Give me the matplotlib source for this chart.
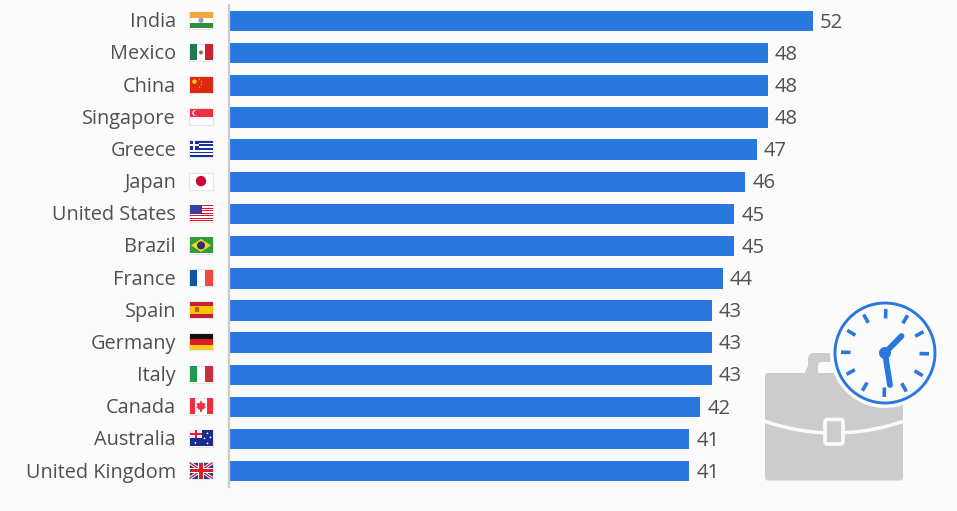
import numpy as np
import matplotlib
matplotlib.use("Agg")
import matplotlib.pyplot as plt
from matplotlib.patches import Rectangle, Circle, FancyBboxPatch, Polygon

countries = ["India", "Mexico", "China", "Singapore", "Greece", "Japan", "United States", "Brazil",
             "France", "Spain", "Germany", "Italy", "Canada", "Australia", "United Kingdom"]
hours = [52, 48, 48, 48, 47, 46, 45, 45, 44, 43, 43, 43, 42, 41, 41]
flag_codes = ["in", "mx", "cn", "sg", "gr", "jp", "us", "br", "fr", "es", "de", "it", "ca", "au", "gb"]

BLUE = "#2a78dd"
BG = "#fbfbfb"
TEXT = "#505050"
GREY = "#cccccc"

plt.rcParams["font.family"] = ["Open Sans", "DejaVu Sans"]

W, H = 957, 511
fig = plt.figure(figsize=(W / 100, H / 100), dpi=100, facecolor=BG)

# main bars, axes placed on the pixel box of the chart
step = 32.16
y0 = 21
top_px, bot_px = 5, 487
left_px = 229
ax = fig.add_axes([left_px / W, 1 - bot_px / H, (W - left_px) / W, (bot_px - top_px) / H])
ax.set_facecolor("none")
ypos = np.arange(len(countries))
ax.barh(ypos, hours, height=20.5 / step, color=BLUE)
ax.set_xlim(0, (W - left_px) / 11.225)
ax.set_ylim((bot_px - y0) / step, (top_px - y0) / step)
ax.set_yticks(ypos)
ax.set_yticklabels([])
ax.set_xticks([])
ax.tick_params(length=0)
for s in ["top", "right", "bottom"]:
    ax.spines[s].set_visible(False)
ax.spines["left"].set_color("#cccccc")
ax.spines["left"].set_linewidth(1.6)
for i, v in enumerate(hours):
    ax.annotate(str(v), (v, i), xytext=(5.2, -1.2), textcoords="offset points", va="center", ha="left",
                fontsize=14.6, color=TEXT)

# overlay in pixel coordinates for labels, flags and the icon
ov = fig.add_axes([0, 0, 1, 1], zorder=3)
ov.set_xlim(0, W)
ov.set_ylim(H, 0)
ov.axis("off")


def rect(x, y, w, h, c, z=4):
    ov.add_patch(Rectangle((x, y), w, h, fc=c, ec="none", zorder=z))


def flag(code, cy):
    x, y, w, h = 189.5, cy - 8, 23, 16
    ov.add_patch(Rectangle((x - 0.5, y - 0.5), w + 1, h + 1, fc="white", ec="#e6e6e6", lw=0.8, zorder=3.5))
    if code == "in":
        rect(x, y, w, h / 3, "#f7a541")
        rect(x, y + 2 * h / 3, w, h / 3, "#2f8f3c")
        ov.add_patch(Circle((x + w / 2, cy), 2.6, fc="#9a9ad0", ec="none", zorder=5))
    elif code == "mx":
        rect(x, y, w / 3, h, "#1f7a4d")
        rect(x + 2 * w / 3, y, w / 3, h, "#cf2030")
        ov.add_patch(Circle((x + w / 2, cy), 2.0, fc="#8a6a4a", ec="none", zorder=5))
    elif code == "cn":
        rect(x, y, w, h, "#de2910")
        ov.add_patch(Circle((x + 5, y + 5), 2.2, fc="#ffde00", ec="none", zorder=5))
        for dx, dy in [(10, 2.5), (12, 5), (12, 8), (10, 10.5)]:
            ov.add_patch(Circle((x + dx, y + dy), 0.8, fc="#f0a000", ec="none", zorder=5))
    elif code == "sg":
        rect(x, y, w, h / 2, "#ee2e42")
        ov.add_patch(Circle((x + 5.5, y + 4.2), 2.8, fc="white", ec="none", zorder=5))
        ov.add_patch(Circle((x + 6.6, y + 4.2), 2.5, fc="#ee2e42", ec="none", zorder=5))
    elif code == "gr":
        for k in range(9):
            rect(x, y + k * h / 9, w, h / 9, "#1a2ea0" if k % 2 == 0 else "white")
        rect(x, y, 9.5, 5 * h / 9, "#1a2ea0")
        rect(x + 3.8, y, 1.9, 5 * h / 9, "white", 5)
        rect(x, y + 2 * h / 9, 9.5, h / 9, "white", 5)
    elif code == "jp":
        ov.add_patch(Circle((x + w / 2, cy), 5.2, fc="#c40a3c", ec="none", zorder=5))
    elif code == "us":
        for k in range(7):
            rect(x, y + k * 2 * h / 13, w, h / 13, "#e3122c")
        rect(x, y, 12.5, 7 * h / 13, "#3a3f9e", 5)
    elif code == "br":
        rect(x, y, w, h, "#2f9a3e")
        ov.add_patch(Polygon([(x + 1.5, cy), (x + w / 2, y + 1.5), (x + w - 1.5, cy), (x + w / 2, y + h - 1.5)],
                             fc="#f5d90a", ec="none", zorder=5))
        ov.add_patch(Circle((x + w / 2, cy), 4, fc="#27307a", ec="none", zorder=6))
    elif code == "fr":
        rect(x, y, w / 3, h, "#0f56a8")
        rect(x + 2 * w / 3, y, w / 3, h, "#f04b40")
    elif code == "es":
        rect(x, y, w, h, "#f7c500")
        rect(x, y, w, h / 4, "#c8202c")
        rect(x, y + 3 * h / 4, w, h / 4, "#c8202c")
        rect(x + 5, cy - 2.5, 4.5, 5, "#c4562a", 5)
    elif code == "de":
        rect(x, y, w, h / 3, "#111111")
        rect(x, y + h / 3, w, h / 3, "#dd1f1f")
        rect(x, y + 2 * h / 3, w, h / 3, "#fcca20")
    elif code == "it":
        rect(x, y, w / 3, h, "#1f9a50")
        rect(x + 2 * w / 3, y, w / 3, h, "#c8303f")
    elif code == "ca":
        rect(x, y, w / 4, h, "#ee2d3d")
        rect(x + 3 * w / 4, y, w / 4, h, "#ee2d3d")
        cx = x + w / 2
        ov.add_patch(Polygon([(cx, cy - 6), (cx + 1.5, cy - 3), (cx + 4.5, cy - 3), (cx + 3.5, cy),
                              (cx + 5, cy + 1), (cx + 1, cy + 4), (cx + 0.6, cy + 6), (cx - 0.6, cy + 6),
                              (cx - 1, cy + 4), (cx - 5, cy + 1), (cx - 3.5, cy), (cx - 4.5, cy - 3),
                              (cx - 1.5, cy - 3)], fc="#ee2d3d", ec="none", zorder=5))
    elif code == "au":
        rect(x, y, w, h, "#1b2a8f")
        rect(x, y, 12, 8, "#eeeeff", 5)
        rect(x + 5, y, 2, 8, "#e0202c", 6)
        rect(x, y + 3, 12, 2, "#e0202c", 6)
        for dx, dy in [(6, 12.5), (18, 3), (21, 7), (15, 8), (18, 13)]:
            ov.add_patch(Circle((x + dx, y + dy), 0.9, fc="white", ec="none", zorder=6))
    elif code == "gb":
        rect(x, y, w, h, "#2a3a8a")
        ov.plot([x, x + w], [y, y + h], color="white", lw=2.4, zorder=5, solid_capstyle="butt")
        ov.plot([x, x + w], [y + h, y], color="white", lw=2.4, zorder=5, solid_capstyle="butt")
        ov.plot([x, x + w], [y, y + h], color="#d8202c", lw=1, zorder=5, solid_capstyle="butt")
        ov.plot([x, x + w], [y + h, y], color="#d8202c", lw=1, zorder=5, solid_capstyle="butt")
        rect(x + w / 2 - 2.8, y, 5.6, h, "white", 5)
        rect(x, cy - 2.8, w, 5.6, "white", 5)
        rect(x + w / 2 - 1.6, y, 3.2, h, "#d8202c", 6)
        rect(x, cy - 1.6, w, 3.2, "#d8202c", 6)


for i, (name, code) in enumerate(zip(countries, flag_codes)):
    cy = 20.3 + step * i
    ov.text(176, cy + 2, name, ha="right", va="center", fontsize=14.3, color=TEXT)
    flag(code, cy)

# briefcase
ov.add_patch(Polygon([(804, 374), (809, 364), (820, 364), (820, 374)], fc=GREY, ec="none", zorder=4))
ov.add_patch(FancyBboxPatch((808, 353), 40, 34, boxstyle="round,pad=0,rounding_size=6", fc=GREY, ec="none", zorder=4))
ov.add_patch(FancyBboxPatch((818, 362), 26, 22, boxstyle="round,pad=0,rounding_size=4", fc=BG, ec="none", zorder=4.1))
ov.add_patch(FancyBboxPatch((765, 373), 138, 107.5, boxstyle="round,pad=0,rounding_size=3", fc=GREY, ec="none", zorder=4.2))
xb = np.linspace(764, 904, 60)
yb = 421 + 12 * (1 - ((xb - 834) / 70) ** 2)
ov.plot(xb, yb, color=BG, lw=2.5, zorder=4.3, solid_capstyle="butt")
ov.add_patch(FancyBboxPatch((825, 419.5), 18, 24.5, boxstyle="round,pad=0,rounding_size=2.5", fc=GREY, ec=BG, lw=2.6, zorder=4.4))

# clock
cx, cy = 885, 353
ov.add_patch(Circle((cx, cy), 55, fc=BG, ec="none", zorder=5))
ov.add_patch(Circle((cx, cy), 50, fc=BG, ec=BLUE, lw=2.1, zorder=5.1))
for k in range(12):
    a = np.radians(k * 30 + 1)
    ov.plot([cx + 34.5 * np.sin(a), cx + 44 * np.sin(a)], [cy - 34.5 * np.cos(a), cy - 44 * np.cos(a)],
            color=BLUE, lw=2.6, zorder=5.2, solid_capstyle="butt")
ov.plot([cx, 901.5], [cy, 336], color=BLUE, lw=4.2, zorder=5.3, solid_capstyle="round")
ov.plot([cx, 890], [cy, 385], color=BLUE, lw=4.2, zorder=5.3, solid_capstyle="round")
ov.add_patch(Circle((cx, cy), 6, fc=BLUE, ec="none", zorder=5.4))

plt.savefig("out.png", dpi=100, facecolor=fig.get_facecolor())
